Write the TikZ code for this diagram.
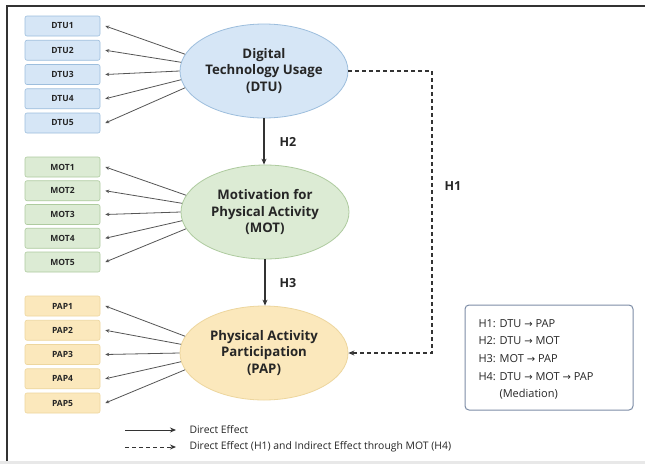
\documentclass[tikz,border=0pt]{standalone}
\usepackage{fontspec}
\setmainfont{Open Sans}
\newfontfamily\symfont{DejaVu Sans}
\usetikzlibrary{shapes.geometric,arrows.meta,calc}
\definecolor{bluefill}{HTML}{D6E6F6}
\definecolor{blueline}{HTML}{9DBEDD}
\definecolor{greenfill}{HTML}{DCEBD4}
\definecolor{greenline}{HTML}{AECB9F}
\definecolor{yellowfill}{HTML}{FBE8BC}
\definecolor{yellowline}{HTML}{EDD69E}
\definecolor{framegray}{HTML}{333333}
\definecolor{linegray}{HTML}{555555}
\definecolor{hypline}{HTML}{7D8DA6}
\definecolor{txt}{HTML}{262626}
\tikzset{
  x=1pt, y=-1pt,
  indbox/.style={draw, rounded corners=2pt, line width=0.6pt, minimum width=75pt, minimum height=20pt, inner sep=0pt, font=\fontsize{8.5}{10}\selectfont\bfseries, text=txt},
  latent/.style={ellipse, draw, line width=0.8pt, minimum width=168pt, minimum height=94pt, inner sep=0pt, align=center, font=\fontsize{13.2}{16.5}\selectfont\bfseries, text=txt},
  load/.style={draw=linegray, line width=0.8pt, -{Stealth[length=4pt,width=3.5pt]}},
  path/.style={draw=framegray, line width=1.1pt, -{Stealth[length=6pt,width=5pt]}},
  dpath/.style={draw=framegray, line width=1.1pt, dash pattern=on 4pt off 3pt, -{Stealth[length=6pt,width=5pt]}},
  hlab/.style={font=\fontsize{12.5}{14}\selectfont\bfseries, text=txt},
  legtext/.style={anchor=west, font=\fontsize{10.4}{12}\selectfont, text=txt},
  hyptext/.style={anchor=west, font=\fontsize{11}{13}\selectfont, text=txt},
}
\newcommand{\ar}{{\symfont\fontsize{10}{12}\selectfont →}}
\begin{document}
\begin{tikzpicture}
\useasboundingbox (0,0) rectangle (645,464);
\fill[white] (0,0) rectangle (645,464);
\fill[black!9] (0,461) rectangle (645,464);
\draw[framegray, line width=1.2pt] (7,461) -- (7,6) -- (645,6);

% latent variables
\node[latent, fill=bluefill, draw=blueline] (dtu) at (264,71) {Digital\\Technology Usage\\(DTU)};
\node[latent, fill=greenfill, draw=greenline] (mot) at (265,212) {Motivation for\\Physical Activity\\(MOT)};
\node[latent, fill=yellowfill, draw=yellowline] (pap) at (264,353) {Physical Activity\\Participation\\(PAP)};

% indicators
\foreach \i in {1,...,5}{
  \node[indbox, fill=bluefill, draw=blueline] (d\i) at (62.5,{26+24.25*(\i-1)}) {DTU\i};
  \node[indbox, fill=greenfill, draw=greenline] (m\i) at (62.5,{167+23.75*(\i-1)}) {MOT\i};
  \node[indbox, fill=yellowfill, draw=yellowline] (p\i) at (62.5,{306+24.25*(\i-1)}) {PAP\i};
}
\foreach \i/\a in {1/168,2/174,3/180,4/186,5/192}{
  \draw[load] (dtu.\a) -- ([xshift=5pt]d\i.east);
  \draw[load] (mot.\a) -- ([xshift=5pt]m\i.east);
  \draw[load] (pap.\a) -- ([xshift=5pt]p\i.east);
}

% structural paths
\draw[path] (dtu.south) -- (dtu.south |- mot.north);
\draw[path] (mot.south) -- (mot.south |- pap.north);
\coordinate (corner) at (432,71);
\draw[dpath] (dtu.east) -- (corner) |- (pap.east);

\node[hlab] (h2) at (288,142) {H2};
\node[hlab] (h3) at (288,283) {H3};
\node[hlab] (h1) at (453,186) {H1};

% hypothesis box
\node[draw=hypline, line width=1pt, rounded corners=4pt, fill=white, minimum width=168pt, minimum height=105pt, inner sep=0pt] (hyp) at (549,357.5) {};
\node[hyptext] (t1) at (475,324) {H1: DTU \ar{} PAP};
\node[hyptext] (t2) at (475,341) {H2: DTU \ar{} MOT};
\node[hyptext] (t3) at (475,359) {H3: MOT \ar{} PAP};
\node[hyptext] (t4) at (475,377) {H4: DTU \ar{} MOT \ar{} PAP};
\node[hyptext] (t5) at (496,394) {(Mediation)};

% legend
\coordinate (ls1) at (125,430); \coordinate (le1) at (176,430);
\coordinate (ls2) at (125,447); \coordinate (le2) at (176,447);
\draw[path, line width=0.9pt] (ls1) -- (le1);
\draw[dpath, line width=0.9pt] (ls2) -- (le2);
\node[legtext] (lt1) at (186,430) {Direct Effect};
\node[legtext] (lt2) at (186,447) {Direct Effect (H1) and Indirect Effect through MOT (H4)};
\end{tikzpicture}
\end{document}
